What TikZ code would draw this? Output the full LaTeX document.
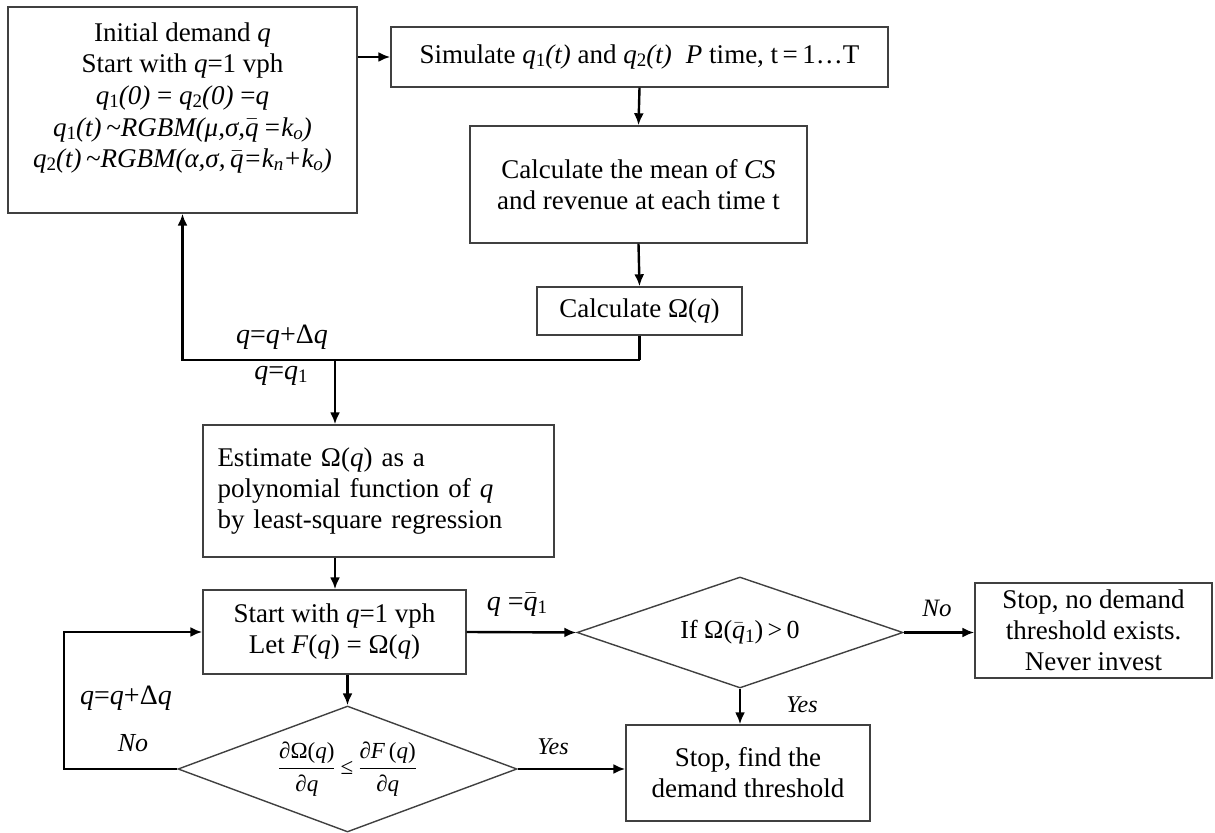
\documentclass[tikz,border=0pt]{standalone}
\usepackage{fontspec}
\setmainfont{Liberation Serif}
\usetikzlibrary{shapes.geometric,arrows.meta}

\newcommand{\lo}[1]{\raisebox{-0.12em}{\fontsize{9.5pt}{9.5pt}\selectfont #1}}
\newcommand{\qb}{\ensuremath{\bar{\mbox{\itshape q}}}}

\begin{document}
\begin{tikzpicture}[x=0.5pt,y=-0.5pt,
  box/.style={draw=black!75, line width=0.7pt, fill=white, inner sep=0pt, align=center,
    font=\fontsize{13.5pt}{15.5pt}\selectfont},
  txt/.style={inner sep=0pt, align=center, font=\fontsize{13.5pt}{15.8pt}\selectfont},
  dia/.style={diamond, draw=black!75, line width=0.7pt, inner sep=0pt, aspect=3},
  arr/.style={line width=1.2pt, -{Latex[length=6pt,width=5pt]}},
  ln/.style={line width=1.2pt},
  lbl/.style={inner sep=0pt, font=\fontsize{14pt}{16pt}\selectfont}]

\useasboundingbox (0,0) rectangle (1215,833);

% boxes
\node[box, minimum width=174.5pt, minimum height=103pt] (a) at (182.5,110) {};
\node[txt] (atxt) at (182.5,98) {Initial demand \textit{q}\\
Start with \textit{q}=1 vph\\
\textit{q}\lo{\upshape 1}\textit{(0)} = \textit{q}\lo{\upshape 2}\textit{(0)} =\textit{q}\\
\textit{q}\lo{\upshape 1}\textit{(t)\,\textasciitilde RGBM(μ,σ,}\qb\textit{\,=k\lo{o})}\\
\textit{q}\lo{\upshape 2}\textit{(t)\,\textasciitilde RGBM(α,σ,\,}\qb\textit{=k\lo{n}+k\lo{o})}};

\node[box, minimum width=248.5pt, minimum height=30pt] (b) at (639.5,57)
  {Simulate \textit{q}\lo{1}\textit{(t)} and \textit{q}\lo{2}\textit{(t)}\; \textit{P} time, t\,=\,1…T};

\node[box, minimum width=168.5pt, minimum height=58.5pt] (mean) at (638.5,184.5)
  {Calculate the mean of \textit{CS}\\ and revenue at each time t};

\node[box, minimum width=102.5pt, minimum height=24pt] (om) at (639.5,311)
  {Calculate Ω(\textit{q})};

\node[box, minimum width=175.5pt, minimum height=66pt, align=left, text width=161pt, inner xsep=7pt] (est) at (378.5,491)
  {Estimate Ω(\textit{q}) as a\\ polynomial function of \textit{q}\\ by least-square regression};

\node[box, minimum width=131.5pt, minimum height=42pt] (start) at (334.5,632)
  {Start with \textit{q}=1 vph\\ Let \textit{F}(\textit{q}) = Ω(\textit{q})};

\node[dia, minimum width=163pt, minimum height=55.5pt, font=\fontsize{13pt}{15pt}\selectfont] (d1) at (740,632.5)
  {If Ω(\qb\lo{1})\,>\,0};

\node[box, minimum width=118.5pt, minimum height=47.5pt] (stopno) at (1093.5,630.5)
  {Stop, no demand\\ threshold exists.\\ Never invest};

\node[box, minimum width=122pt, minimum height=48pt] (stopfind) at (748,773)
  {Stop, find the\\ demand threshold};

\node[dia, minimum width=169.5pt, minimum height=63pt, font=\fontsize{11.5pt}{13pt}\selectfont] (d2) at (347.5,769)
  {$\displaystyle\frac{\mbox{∂Ω(\textit{q})}}{\mbox{∂\textit{q}}}\mbox{\,≤\,}\frac{\mbox{∂\textit{F}\,(\textit{q})}}{\mbox{∂\textit{q}}}$};

% junction coordinates
\coordinate (j1) at (639.5,360);
\coordinate (j3) at (335,360);
\coordinate (l1) at (64,700);

% connectors
\draw[arr] (a.east |- b.west) -- (b.west);
\draw[arr] (b.south) -- (mean.north);
\draw[arr] (mean.south) -- (om.north);
\draw[ln] (om.south) -- (j1);
\draw[arr] (j1) -- (a.south |- j1) -- (a.south);
\draw[arr] (j3) -- (j3 |- est.north);
\draw[arr] (est.south -| j3) -- (start.north -| j3);
\draw[arr] (start.east) -- (d1.west);
\draw[arr] (d1.east) -- (stopno.west |- d1.east);
\draw[arr] (d1.south) -- (d1.south |- stopfind.north);
\draw[arr] (start.south -| d2.north) -- (d2.north);
\draw[arr] (d2.east) -- (d2.east -| stopfind.west);
\draw[arr] (d2.west) -- (d2.west -| l1) -- (start.west -| l1) -- (start.west);

% labels
\node[lbl] (lb1) at (282,337) {\textit{q}=\textit{q}+Δ\textit{q}};
\node[lbl] (lb2) at (281,376) {\textit{q}=\textit{q}\lo{1}};
\node[lbl] (lb3) at (517,605) {\textit{q} =\qb\lo{1}};
\node[lbl, font=\fontsize{12.5pt}{14pt}\selectfont\itshape] (lb4) at (937,608) {No};
\node[lbl, font=\fontsize{12pt}{14pt}\selectfont\itshape] (lb5) at (802,705) {Yes};
\node[lbl, font=\fontsize{12pt}{14pt}\selectfont\itshape] (lb6) at (553,747) {Yes};
\node[lbl] (lb7) at (126,698) {\textit{q}=\textit{q}+Δ\textit{q}};
\node[lbl, font=\fontsize{13pt}{14pt}\selectfont\itshape] (lb8) at (133,743) {No};
\end{tikzpicture}
\end{document}
